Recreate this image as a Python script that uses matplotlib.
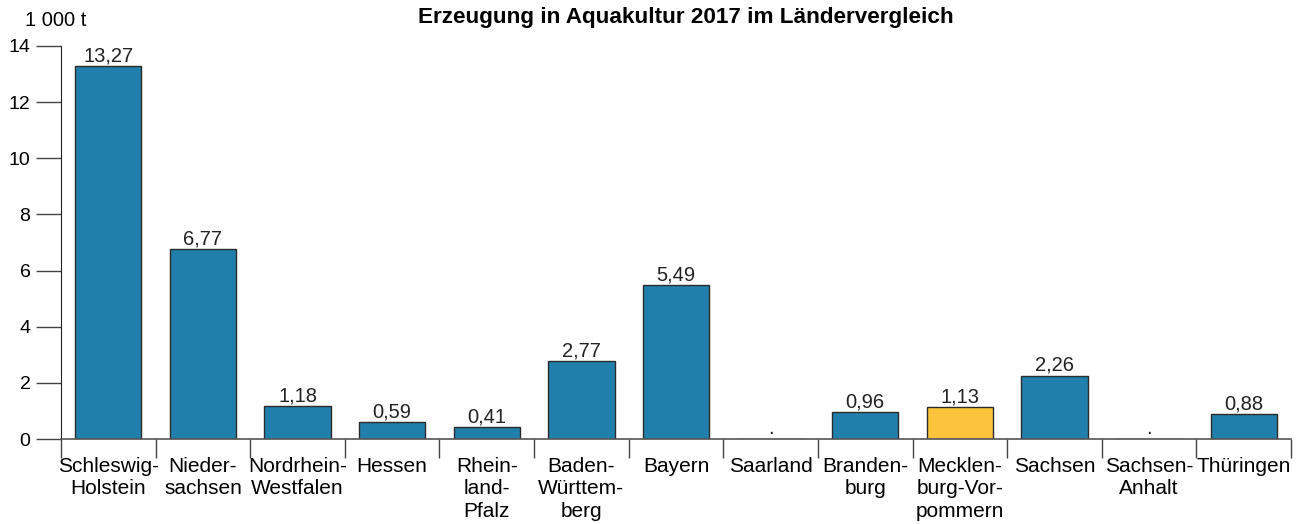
import matplotlib
matplotlib.use("Agg")
from matplotlib import pyplot as plt
import numpy as np

plt.rcParams['font.family'] = ['Liberation Sans', 'DejaVu Sans']

# Laender und Werte (1 000 t), "." = kein Wert
laender = ["Schleswig-\nHolstein", "Nieder-\nsachsen", "Nordrhein-\nWestfalen", "Hessen",
           "Rhein-\nland-\nPfalz", "Baden-\nWürttem-\nberg", "Bayern", "Saarland",
           "Branden-\nburg", "Mecklen-\nburg-Vor-\npommern", "Sachsen", "Sachsen-\nAnhalt",
           "Thüringen"]
werte = [13.27, 6.77, 1.18, 0.59, 0.41, 2.77, 5.49, 0.0, 0.96, 1.13, 2.26, 0.0, 0.88]
beschriftung = ["13,27", "6,77", "1,18", "0,59", "0,41", "2,77", "5,49", ".",
                "0,96", "1,13", "2,26", ".", "0,88"]
hervorheben = "Mecklen-\nburg-Vor-\npommern"

blau = "#217fab"
gelb = "#fcc43c"

fig = plt.figure(figsize=(13.02, 5.24), dpi=100)
ax = fig.add_axes([61/1302, 1 - 439/524, (1291 - 61)/1302, (439 - 46)/524])

x = np.arange(len(laender))
farben = [gelb if l == hervorheben else blau for l in laender]
bars = ax.bar(x, werte, width=0.7, color=farben, edgecolor="#2b2b2b", linewidth=1.0, zorder=2)

for xi, w, t in zip(x, werte, beschriftung):
    ax.text(xi, w + 0.03, t, ha="center", va="bottom", fontsize=14.5, color="#222222")

ax.set_xlim(-0.5, len(laender) - 0.5)
ax.set_ylim(0, 14)
ax.set_yticks(range(0, 15, 2))
ax.tick_params(axis="y", length=18, width=1, color="#444444", labelsize=14, pad=4)

# Kategorienamen ohne Ticks, Trennstriche an den Grenzen
ax.set_xticks(x)
ax.set_xticklabels(laender, fontsize=15, linespacing=1.22, va="top")
ax.tick_params(axis="x", length=0, pad=13)
ax.set_xticks(np.arange(-0.5, len(laender)), minor=True)
ax.tick_params(axis="x", which="minor", length=14, width=1, color="#444444")

for s in ["top", "right"]:
    ax.spines[s].set_visible(False)
ax.spines["left"].set_color("#222222")
ax.spines["bottom"].set_color("#555555")
ax.spines["bottom"].set_linewidth(1.2)

fig.text(25/1302, 1 - 20/524, "1 000 t", fontsize=14.5, va="center", ha="left")
fig.text(686/1302, 1 - 17/524, "Erzeugung in Aquakultur 2017 im Ländervergleich",
         fontsize=16.2, fontweight="bold", ha="center", va="center")

fig.savefig("out.png", dpi=100)
